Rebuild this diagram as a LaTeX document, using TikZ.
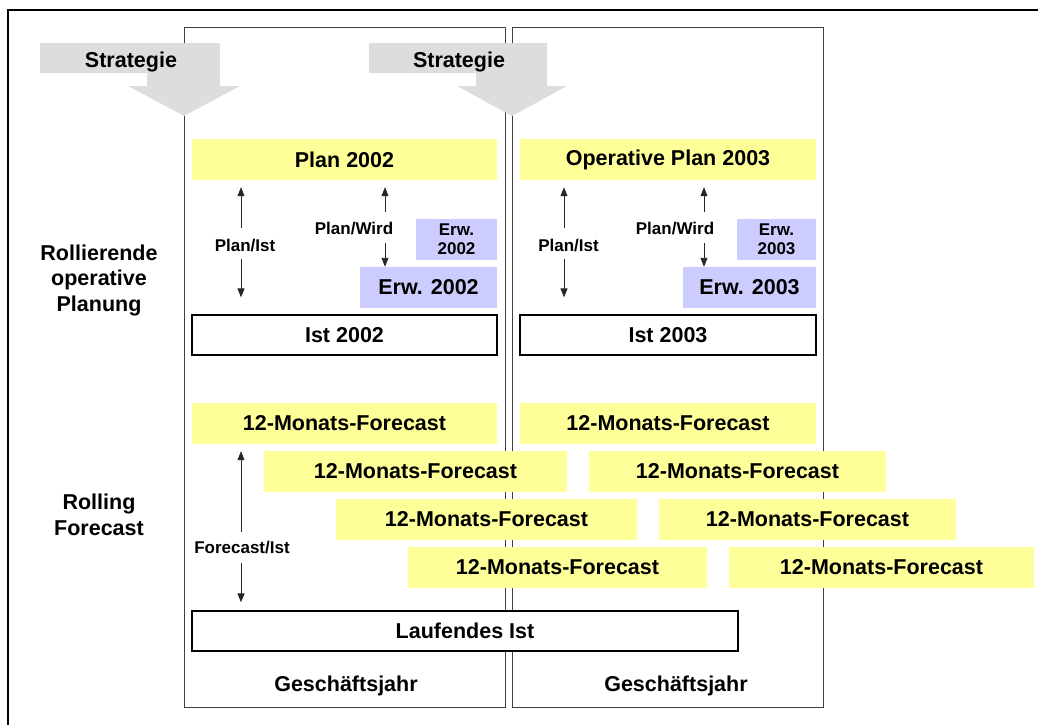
\documentclass[tikz,border=0pt]{standalone}
\usepackage{fontspec}
\setmainfont{Liberation Sans}
\usetikzlibrary{arrows.meta}
\definecolor{pale}{HTML}{FFFF99}
\definecolor{lav}{HTML}{CCCCFF}
\definecolor{strat}{HTML}{DDDDDD}
\definecolor{colline}{HTML}{404040}
\tikzset{
  bigtxt/.style={font=\fontsize{21.5}{25.5}\selectfont\bfseries, align=center},
  smalltxt/.style={font=\fontsize{17}{19}\selectfont\bfseries, align=center, inner sep=1pt},
  ybox/.style={bigtxt, fill=pale, minimum width=#1, minimum height=41pt, inner sep=0pt},
  lbox/.style={bigtxt, fill=lav, minimum width=#1, minimum height=41pt, inner sep=0pt},
  lsmall/.style={smalltxt, fill=lav, minimum width=#1, minimum height=41pt, inner sep=0pt},
  wbox/.style={bigtxt, fill=white, draw=black, line width=1.3pt, minimum width=#1, minimum height=40pt, inner sep=0pt},
  colbox/.style={draw=colline, line width=1pt, minimum width=#1, minimum height=680pt, inner sep=0pt},
  arr/.style={draw=black!85, line width=0.9pt, -{Triangle[length=9pt,width=7pt]}},
}
\begin{document}
\begin{tikzpicture}[x=1pt,y=-1pt]
\useasboundingbox (0,0) rectangle (1038,724);
% outer frame
\draw[line width=2.6pt, line join=miter] (1045,10) -- (8,10) -- (8,730);
% columns
\node[colbox=321pt] (col1) at (344.5,367) {};
\node[colbox=311pt] (col2) at (667.5,367) {};
% strategy arrows
\fill[strat] (40,43) -- (220,43) -- (220,86) -- (240,86) -- (184,116) -- (128,86) -- (147,86) -- (147,73) -- (40,73) -- cycle;
\fill[strat] (369,43) -- (547,43) -- (547,86) -- (567,86) -- (512,116) -- (457,86) -- (476,86) -- (476,73) -- (369,73) -- cycle;
\node[bigtxt] (s1) at (131,62) {Strategie};
\node[bigtxt] (s2) at (459,62) {Strategie};
% left labels
\node[bigtxt] (rop) at (99,280) {Rollierende\\operative\\Planung};
\node[bigtxt] (rf) at (99,515) {Rolling\\Forecast};
% operative planning column 1
\node[ybox=305pt] (plan02) at (344.5,159.5) {Plan 2002};
\node[lsmall=81pt] (erws1) at (456.5,239.5) {Erw.\\2002};
\node[lbox=137pt] (erwb1) at (428.5,287.5) {Erw. 2002};
\node[wbox=305pt] (ist02) at (344.5,335) {Ist 2002};
% operative planning column 2
\node[ybox=296pt] (plan03) at (668,159.5) {Operative Plan 2003};
\node[lsmall=79pt] (erws2) at (776.5,239.5) {Erw.\\2003};
\node[lbox=133pt] (erwb2) at (749.5,287.5) {Erw. 2003};
\node[wbox=296pt] (ist03) at (668,335) {Ist 2003};
% labels and arrows
\node[smalltxt] (pi1) at (245,246) {Plan/Ist};
\node[smalltxt] (pw1) at (354,229) {Plan/Wird};
\node[smalltxt] (pi2) at (568.5,246) {Plan/Ist};
\node[smalltxt] (pw2) at (675,229) {Plan/Wird};
\coordinate (pi1t) at (241,228);
\coordinate (pi1b) at (241,259);
\coordinate (pw1t) at (385,212);
\coordinate (pw1b) at (385,243);
\coordinate (pi2t) at (564,228);
\coordinate (pi2b) at (564,259);
\coordinate (pw2t) at (704,212);
\coordinate (pw2b) at (704,243);
\draw[arr, shorten >=7pt] (pi1t) -- (pi1t |- plan02.south);
\draw[arr, shorten >=17pt] (pi1b) -- (pi1b |- ist02.north);
\draw[arr, shorten >=7pt] (pw1t) -- (pw1t |- plan02.south);
\draw[arr] (pw1b) -- (pw1b |- erwb1.north);
\draw[arr, shorten >=7pt] (pi2t) -- (pi2t |- plan03.south);
\draw[arr, shorten >=17pt] (pi2b) -- (pi2b |- ist03.north);
\draw[arr, shorten >=7pt] (pw2t) -- (pw2t |- plan03.south);
\draw[arr] (pw2b) -- (pw2b |- erwb2.north);
% rolling forecast
\node[ybox=305pt] (f11) at (344.5,423.5) {12-Monats-Forecast};
\node[ybox=296pt] (f12) at (668,423.5) {12-Monats-Forecast};
\node[ybox=303pt] (f21) at (415.5,471.5) {12-Monats-Forecast};
\node[ybox=297pt] (f22) at (737.5,471.5) {12-Monats-Forecast};
\node[ybox=301pt] (f31) at (486.5,519.5) {12-Monats-Forecast};
\node[ybox=297pt] (f32) at (807.5,519.5) {12-Monats-Forecast};
\node[ybox=299pt] (f41) at (557.5,567.5) {12-Monats-Forecast};
\node[ybox=305pt] (f42) at (881.5,567.5) {12-Monats-Forecast};
\node[wbox=546pt] (lauf) at (465,631) {Laufendes Ist};
\node[smalltxt] (fi) at (242,547) {Forecast/Ist};
\coordinate (fit) at (241,532);
\coordinate (fib) at (241,563);
\draw[arr, shorten >=7pt] (fit) -- (fit |- f11.south);
\draw[arr, shorten >=8pt] (fib) -- (fib |- lauf.north);
% years
\node[bigtxt] (gj1) at (346,686) {Geschäftsjahr};
\node[bigtxt] (gj2) at (676,686) {Geschäftsjahr};
\end{tikzpicture}
\end{document}
